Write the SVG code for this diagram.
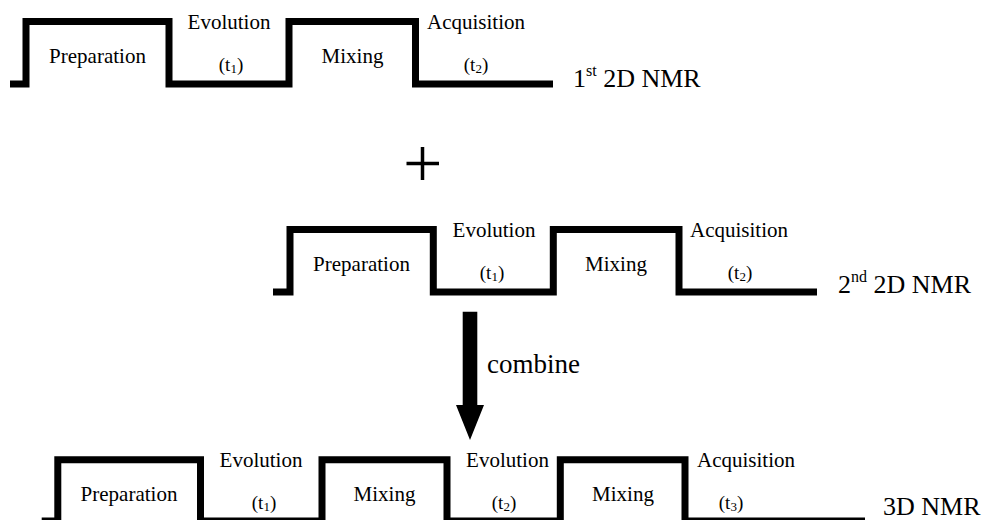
<svg xmlns="http://www.w3.org/2000/svg" width="993" height="520" viewBox="0 0 993 520">
<style>
.seq{fill:none;stroke:#000;stroke-width:7;stroke-linejoin:miter;stroke-linecap:butt}
.lb{font-size:21px;text-anchor:middle}
.tt{font-size:19px;text-anchor:middle}
.big{font-size:26px}
</style>
<rect width="993" height="520" fill="#fff"/>
<g font-family="Liberation Serif, Times New Roman, serif" fill="#000">
<g id="nmr2d-1">
<path class="seq" d="M10,84 H26 V21.5 H169 V84 H289 V21.5 H415.5 V84 H553"/>
<text class="lb" x="97.5" y="63">Preparation</text>
<text class="lb" x="229" y="29">Evolution</text>
<text class="tt" x="231" y="71">(t<tspan font-size="13" dy="2">1</tspan><tspan dy="-2">)</tspan></text>
<text class="lb" x="352.5" y="63">Mixing</text>
<text class="lb" x="476" y="29">Acquisition</text>
<text class="tt" x="476" y="71">(t<tspan font-size="13" dy="2">2</tspan><tspan dy="-2">)</tspan></text>
<text class="big" x="573" y="87">1<tspan font-size="16" dy="-11">st</tspan><tspan dy="11"> 2D NMR</tspan></text>
</g>
<g id="plus">
<path d="M406.5,163.5 H439 M422.5,147 V180" stroke="#000" stroke-width="3.5" fill="none"/>
</g>
<g id="nmr2d-2">
<path class="seq" d="M273,292 H290 V229.5 H433.3 V292 H553.3 V229.5 H679 V292 H817"/>
<text class="lb" x="361.5" y="271">Preparation</text>
<text class="lb" x="494" y="237">Evolution</text>
<text class="tt" x="492" y="279">(t<tspan font-size="13" dy="2">1</tspan><tspan dy="-2">)</tspan></text>
<text class="lb" x="616" y="271">Mixing</text>
<text class="lb" x="739" y="237">Acquisition</text>
<text class="tt" x="740" y="279">(t<tspan font-size="13" dy="2">2</tspan><tspan dy="-2">)</tspan></text>
<text class="big" x="838" y="293">2<tspan font-size="16" dy="-11">nd</tspan><tspan dy="11"> 2D NMR</tspan></text>
</g>
<g id="connectors">
<path d="M462.7,311.7 H477.3 V405 H484 L470,440 L456,405 H462.7 Z" fill="#000"/>
<text x="487" y="373" font-size="27">combine</text>
</g>
<g id="nmr3d">
<path class="seq" d="M41.7,521 H57.8 V459.7 H200.5 V521 H322 V459.7 H447 V521 H560.3 V459.7 H685 V521 H865"/>
<text class="lb" x="129" y="501">Preparation</text>
<text class="lb" x="261" y="467">Evolution</text>
<text class="tt" x="264" y="509">(t<tspan font-size="13" dy="2">1</tspan><tspan dy="-2">)</tspan></text>
<text class="lb" x="384.5" y="501">Mixing</text>
<text class="lb" x="507.5" y="467">Evolution</text>
<text class="tt" x="504" y="509">(t<tspan font-size="13" dy="2">2</tspan><tspan dy="-2">)</tspan></text>
<text class="lb" x="623" y="501">Mixing</text>
<text class="lb" x="746" y="467">Acquisition</text>
<text class="tt" x="731" y="509">(t<tspan font-size="13" dy="2">3</tspan><tspan dy="-2">)</tspan></text>
<text class="big" x="883" y="515">3D NMR</text>
</g>
</g>
</svg>
